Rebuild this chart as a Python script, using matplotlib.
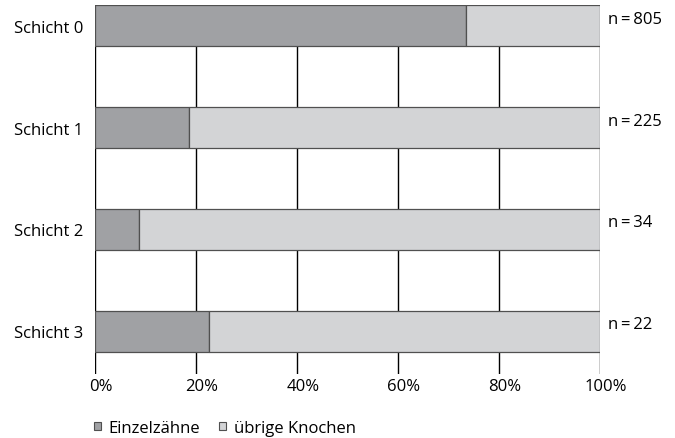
import matplotlib
matplotlib.use("Agg")
import matplotlib.pyplot as plt
import matplotlib.transforms as mtransforms
from matplotlib.patches import Patch
import numpy as np

plt.rcParams['font.family'] = ['Open Sans', 'DejaVu Sans']

categories = ["Schicht 0", "Schicht 1", "Schicht 2", "Schicht 3"]
einzelzaehne = [73.4, 18.7, 8.8, 22.7]
uebrige = [26.6, 81.3, 91.2, 77.3]
n_labels = ["n = 805", "n = 225", "n = 34", "n = 22"]
xticks = [0, 20, 40, 60, 80, 100]
xticklabels = ["0%", "20%", "40%", "60%", "80%", "100%"]
series_names = ["Einzelzähne", "übrige Knochen"]

dark = "#a0a1a4"
light = "#d3d4d6"
edge = "#505050"
fs = 12

fig = plt.figure(figsize=(6.75, 4.39), dpi=100)
ax = fig.add_axes([0.14, 0.1457, 0.7489, 0.8395])

y = np.arange(len(categories))
h = 0.4
ax.barh(y, einzelzaehne, height=h, color=dark, edgecolor=edge, linewidth=0.9, zorder=3)
ax.barh(y, uebrige, left=einzelzaehne, height=h, color=light, edgecolor=edge, linewidth=0.9, zorder=3)

for xv in xticks:
    ax.axvline(xv, color="black", linewidth=1.0, zorder=1)

ax.set_xlim(0, 100)
ax.set_ylim(3.42, -0.2)
for s in ax.spines.values():
    s.set_visible(False)

ax.set_yticks(y)
ax.set_yticklabels(categories, fontsize=fs)
ax.tick_params(axis="y", length=0, pad=8)
ax.set_xticks(xticks)
ax.set_xticklabels(xticklabels, fontsize=fs)
ax.tick_params(axis="x", length=0, pad=3)
off = mtransforms.ScaledTranslation(6/100, 0, fig.dpi_scale_trans)
for lbl in ax.get_xticklabels():
    lbl.set_transform(lbl.get_transform() + off)

for yi, lab in zip(y, n_labels):
    ax.text(101.6, yi - h/2 + 0.13, lab.replace(" ", "\u2009"), ha="left", va="center", fontsize=fs)

handles = [Patch(facecolor=dark, edgecolor=edge, linewidth=0.8),
           Patch(facecolor=light, edgecolor=edge, linewidth=0.8)]
fig.legend(handles, series_names, loc="center left", bbox_to_anchor=(0.117, 0.023),
           ncol=2, frameon=False, fontsize=fs, handlelength=0.42, handleheight=0.42,
           handletextpad=0.45, columnspacing=1.15)

fig.savefig("out.png", dpi=100)
